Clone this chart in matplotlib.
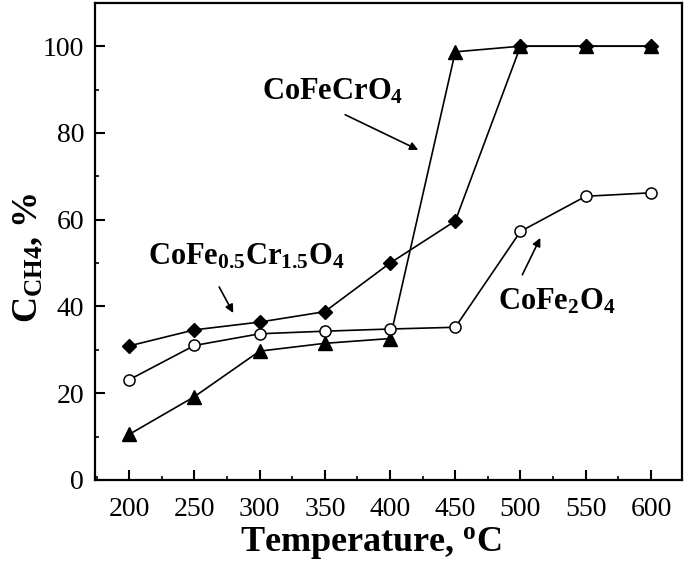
import numpy as np
import matplotlib
matplotlib.use("Agg")
from matplotlib import pyplot as plt
from matplotlib.ticker import MultipleLocator

plt.rcParams['font.family'] = ['Liberation Serif', 'DejaVu Serif']
plt.rcParams['mathtext.fontset'] = 'custom'
plt.rcParams['mathtext.rm'] = 'Liberation Serif:bold'
plt.rcParams['mathtext.bf'] = 'Liberation Serif:bold'
plt.rcParams['mathtext.it'] = 'Liberation Serif:bold'

temperature = [200, 250, 300, 350, 400, 450, 500, 550, 600]
cofe05cr15 = [30.9, 34.6, 36.4, 38.8, 50.0, 59.7, 100, 100, 100]
cofecr = [10.5, 19.2, 29.7, 31.5, 32.6, 98.7, 100, 100, 100]
cofe2 = [23.1, 31.0, 33.7, 34.3, 34.8, 35.2, 57.3, 65.4, 66.2]

fig = plt.figure(figsize=(6.85, 5.64), dpi=100)
ax = fig.add_axes([0.139, 0.149, 0.857, 0.846])

ax.plot(temperature, cofe05cr15, color="black", lw=1.2, marker="D", ms=7.5,
        mfc="black", mec="black")
ax.plot(temperature, cofecr, color="black", lw=1.2, marker="^", ms=9.5,
        mfc="black", mec="black")
ax.plot(temperature, cofe2, color="black", lw=1.2, marker="o", ms=8,
        mfc="white", mec="black", mew=1.1)

ax.set_xlim(174, 624)
ax.set_ylim(0, 110)
ax.set_xticks(np.arange(200, 601, 50))
ax.set_yticks(np.arange(0, 101, 20))
ax.xaxis.set_minor_locator(MultipleLocator(25))
ax.yaxis.set_minor_locator(MultipleLocator(10))
ax.tick_params(which="major", direction="in", length=7, width=1.5, labelsize=20)
ax.tick_params(axis="x", which="major", pad=12)
ax.tick_params(axis="y", which="major", pad=8)
ax.tick_params(which="minor", direction="in", length=3, width=1.2)
for s in ax.spines.values():
    s.set_linewidth(1.6)

ax.set_xlabel(r"Temperature, $^{o}$C", fontsize=26, fontweight="bold")
ax.xaxis.set_label_coords(0.47, -0.095)
ax.set_ylabel(r"$C_{CH4}$, %", fontsize=26, fontweight="bold")
ax.yaxis.set_label_coords(-0.085, 0.465)

arrow = dict(arrowstyle="-|>", color="black", lw=1.2, mutation_scale=12,
             shrinkA=0, shrinkB=0)
ax.annotate("", xy=(421.6, 76.1), xytext=(365.6, 84.2), arrowprops=arrow)
ax.text(356, 89.5, r"CoFeCrO$_4$", fontsize=22, fontweight="bold",
        ha="center", va="center")

ax.annotate("", xy=(279.8, 38.5), xytext=(269, 44.5), arrowprops=arrow)
ax.text(290, 51.5, r"CoFe$_{0.5}$Cr$_{1.5}$O$_4$", fontsize=22, fontweight="bold",
        ha="center", va="center")

ax.annotate("", xy=(515.2, 55.8), xytext=(501.4, 47.3), arrowprops=arrow)
ax.text(528, 41, r"CoFe$_2$O$_4$", fontsize=22, fontweight="bold",
        ha="center", va="center")

fig.savefig("out.png", dpi=100)
